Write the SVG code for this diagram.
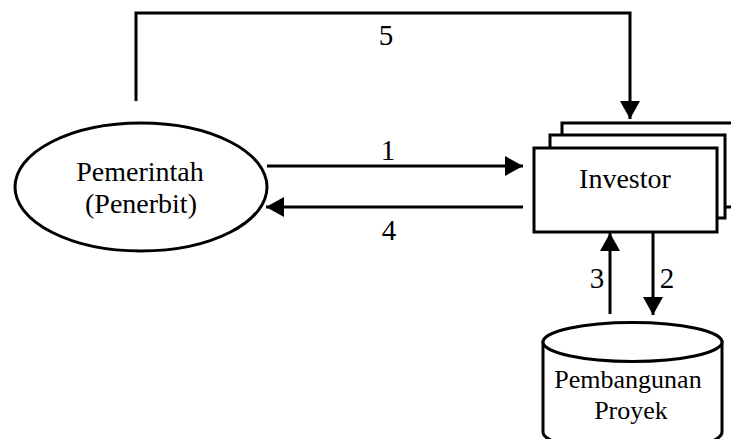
<svg xmlns="http://www.w3.org/2000/svg" width="731" height="439" viewBox="0 0 731 439">
<style>
.ln{fill:none;stroke:#000;stroke-width:3}
.shape{fill:#fff;stroke:#000;stroke-width:3}
text{font-family:'Liberation Serif','Times New Roman',serif;fill:#000;text-anchor:middle}
.t{font-size:28px}
.s{font-size:26px}
.n{font-size:29px}
</style>
<defs>
<marker id="ah" markerUnits="userSpaceOnUse" markerWidth="20" markerHeight="20" viewBox="0 0 18 20" refX="18" refY="10" orient="auto">
<path d="M0,0 L18,10 L0,20 Z" fill="#000"/>
</marker>
</defs>
<rect width="731" height="439" fill="#fff"/>
<g id="pemerintah">
<ellipse class="shape" cx="141" cy="187" rx="126" ry="64" stroke-width="2.5"/>
<text class="t" x="140" y="181">Pemerintah</text>
<text class="t" x="141" y="213">(Penerbit)</text>
</g>
<g id="investor">
<rect class="shape" x="562" y="123" width="173" height="84"/>
<rect class="shape" x="550" y="135" width="175" height="83"/>
<rect class="shape" x="534" y="148" width="183" height="84"/>
<text class="t" x="625" y="188">Investor</text>
</g>
<g id="proyek">
<path class="shape" d="M543,342 L543,432 A89.5,20 0 0 0 722,432 L722,342 Z"/>
<ellipse class="shape" cx="632.5" cy="342" rx="89.5" ry="19.5"/>
<text class="s" x="628" y="388">Pembangunan</text>
<text class="s" x="631" y="419">Proyek</text>
</g>
<g id="connectors">
<path class="ln" d="M136,101 L136,13 L630,13 L630,119" marker-end="url(#ah)"/>
<path class="ln" d="M267,166 L523,166" marker-end="url(#ah)"/>
<path class="ln" d="M523,207 L266,207" marker-end="url(#ah)"/>
<path class="ln" d="M610,314 L610,233" marker-end="url(#ah)"/>
<path class="ln" d="M653,232 L653,315" marker-end="url(#ah)"/>
<text class="n" x="386" y="45">5</text>
<text class="n" x="388" y="160">1</text>
<text class="n" x="389" y="240">4</text>
<text class="n" x="597" y="288">3</text>
<text class="n" x="667" y="288">2</text>
</g>
</svg>
